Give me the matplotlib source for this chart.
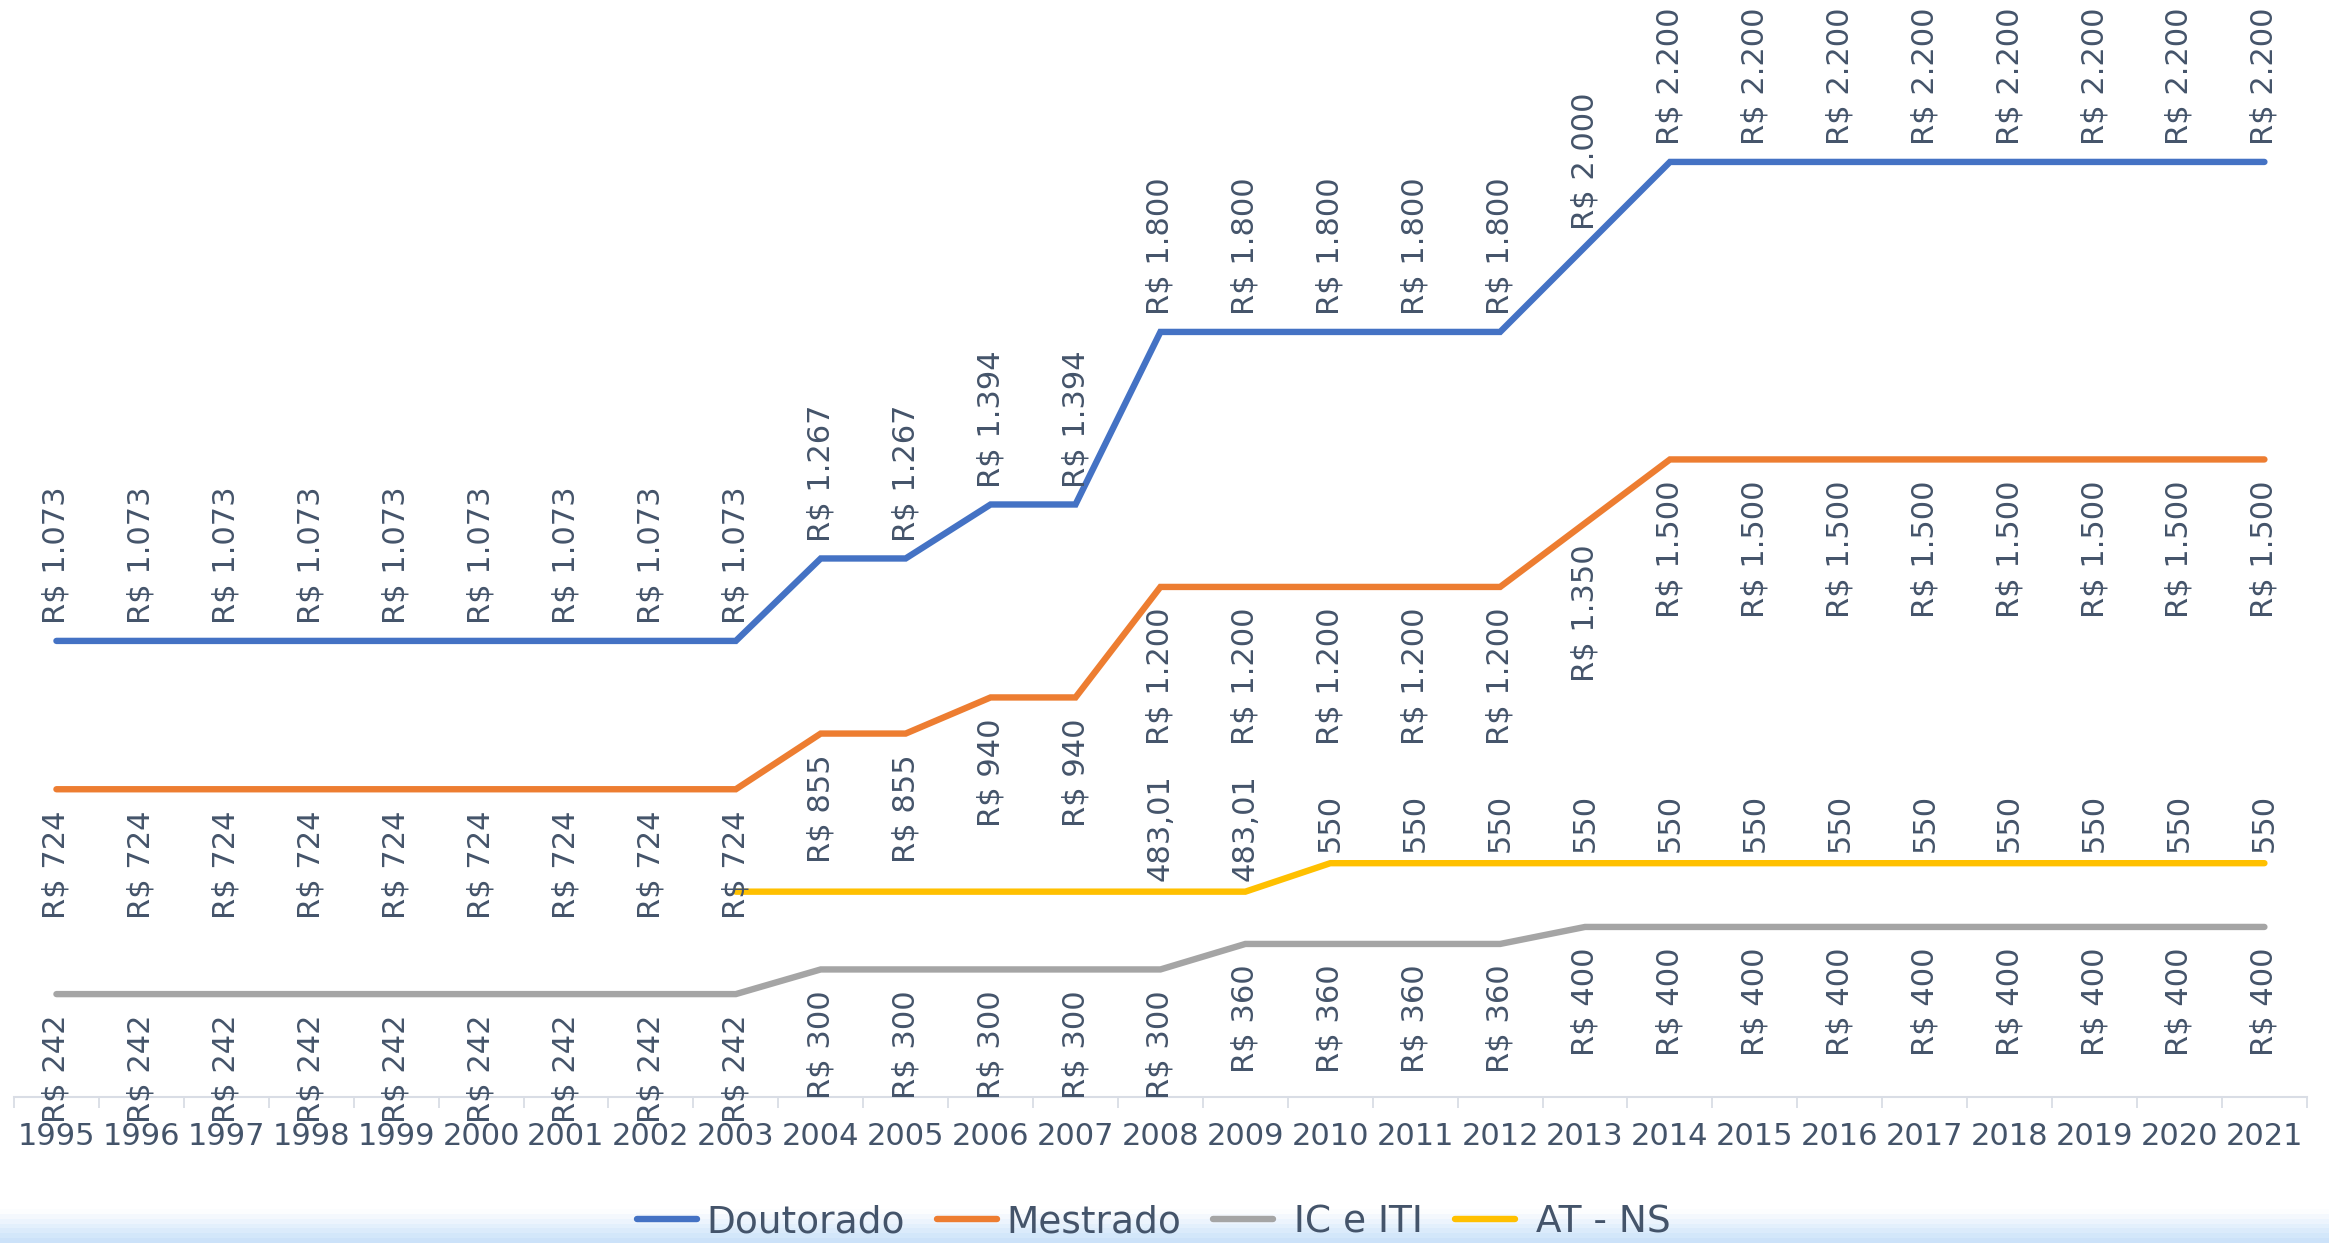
#!/usr/bin/env python3
import numpy as np
import matplotlib
matplotlib.use("Agg")
import matplotlib.pyplot as plt

# Dados (valores das bolsas por ano)
anos = list(range(1995, 2022))
doutorado = [1073] * 9 + [1267] * 2 + [1394] * 2 + [1800] * 5 + [2000] + [2200] * 8
mestrado = [724] * 9 + [855] * 2 + [940] * 2 + [1200] * 5 + [1350] + [1500] * 8
ic_iti = [242] * 9 + [300] * 5 + [360] * 4 + [400] * 9
at_ns = [np.nan] * 8 + [483.01] * 7 + [550] * 12
at_ns_primeiro_rotulo = 2008  # rótulos do AT - NS só a partir daqui

nomes = ["Doutorado", "Mestrado", " IC e ITI", " AT - NS"]

TEXT = "#44546A"
AXIS = "#D9DDE5"


def fmt_real(v: float) -> str:
    return "R$ " + f"{v:,.0f}".replace(",", ".")


def fmt_num(v: float) -> str:
    if float(v).is_integer():
        return f"{v:.0f}"
    return f"{v:.2f}".replace(".", ",")


plt.rcParams["font.family"] = ["DejaVu Sans"]
fig = plt.figure(figsize=(23.29, 12.43), dpi=100)

# faixa com degradê azul no rodapé
bg = fig.add_axes([0, 0, 1, 1], zorder=-10)
grad = np.linspace(0, 1, 256).reshape(-1, 1)
grad = np.clip((grad - 0.975) / 0.025, 0, 1)
white = np.array([1.0, 1.0, 1.0])
blue = np.array([0.80, 0.89, 0.98])
img = white + (blue - white) * grad[..., None]
bg.imshow(img, aspect="auto", extent=[0, 1, 0, 1])
bg.axis("off")

ax = fig.add_axes([0.006, 0.1175, 0.9845, 0.8548])
ax.patch.set_alpha(0)
x = np.arange(len(anos))

series = [
    (doutorado, "#4472C4", 12, fmt_real),
    (mestrado, "#ED7D31", -15, fmt_real),
    (ic_iti, "#A5A5A5", -15, fmt_real),
    (at_ns, "#FFC000", 8, fmt_num),
]

for (vals, cor, off, fmt), nome in zip(series, nomes):
    ax.plot(x, vals, color=cor, lw=4.6, label=nome,
            solid_capstyle="round", solid_joinstyle="miter")
    for xi, ano, v in zip(x, anos, vals):
        if np.isnan(v):
            continue
        if vals is at_ns and ano < at_ns_primeiro_rotulo:
            continue
        ax.annotate(fmt(v), (xi, v), xytext=(0, off),
                    textcoords="offset points", rotation=90,
                    ha="center", va="bottom" if off > 0 else "top",
                    fontsize=22, color=TEXT, annotation_clip=False)

ax.set_xlim(-0.5, len(anos) - 0.5)
ax.set_ylim(0, 2500)
ax.set_yticks([])
for s in ["top", "right", "left"]:
    ax.spines[s].set_visible(False)
ax.spines["bottom"].set_color(AXIS)
ax.spines["bottom"].set_linewidth(1.5)

ax.set_xticks(x)
ax.set_xticklabels([str(a) for a in anos], fontsize=22, color=TEXT)
ax.tick_params(axis="x", which="major", length=0, pad=18)
ax.set_xticks(np.arange(-0.5, len(anos)), minor=True)
ax.tick_params(axis="x", which="minor", length=8, width=1.3, color=AXIS)

fig.legend(loc="center", bbox_to_anchor=(0.4955, 0.0165), ncol=4,
           frameon=False, fontsize=27, labelcolor=TEXT,
           handlelength=1.6, handletextpad=0.25, columnspacing=0.85,
           borderpad=0, borderaxespad=0)

fig.savefig("out.png", dpi=100)
